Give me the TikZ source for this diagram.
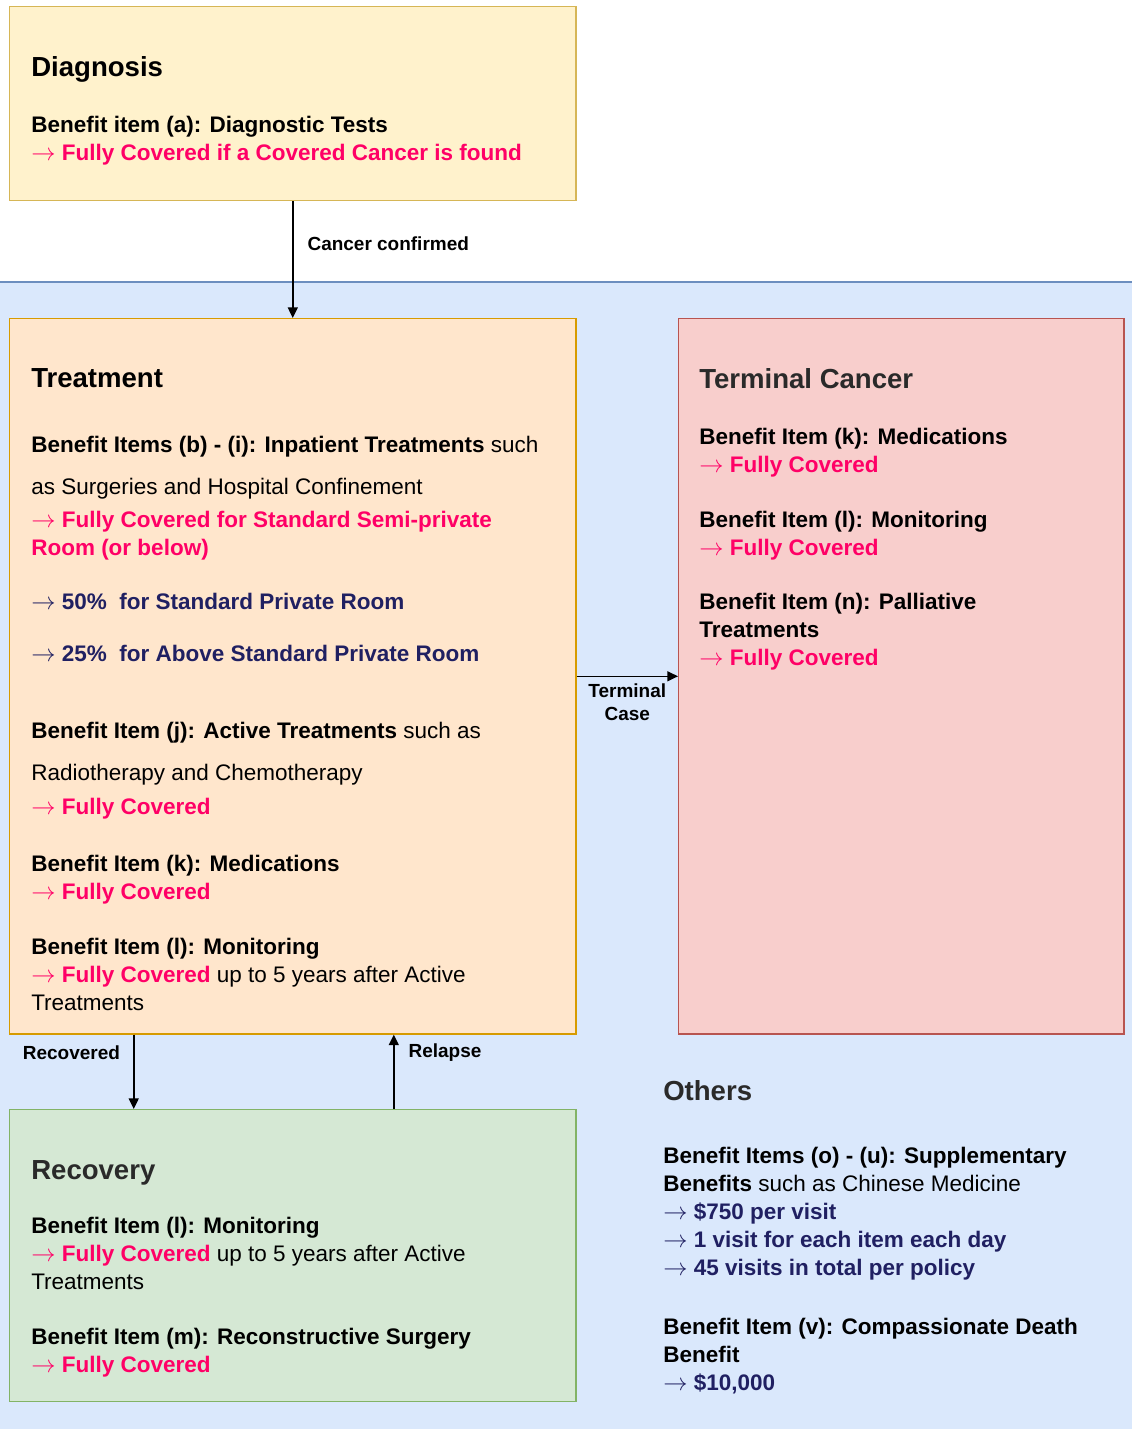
\documentclass[tikz,border=0pt]{standalone}
\usepackage{fontspec}
\setmainfont{Liberation Sans}
\usetikzlibrary{arrows.meta,positioning}
\definecolor{diagfill}{HTML}{FFF2CC}
\definecolor{diagline}{HTML}{D6B656}
\definecolor{treatfill}{HTML}{FFE6CC}
\definecolor{treatline}{HTML}{D79B00}
\definecolor{termfill}{HTML}{F8CECC}
\definecolor{termline}{HTML}{B85450}
\definecolor{recfill}{HTML}{D5E8D4}
\definecolor{recline}{HTML}{82B366}
\definecolor{bgfill}{HTML}{DAE8FC}
\definecolor{bgline}{HTML}{6C8EBF}
\definecolor{pinkred}{HTML}{FF0066}
\definecolor{navytxt}{HTML}{202062}
\definecolor{ttlgray}{HTML}{2A2A2A}

\begin{document}
\begin{tikzpicture}[x=0.025cm,y=-0.025cm,
  stage/.style={draw,line width=1pt,anchor=north west,inner sep=0pt},
  ttl/.style={anchor=north west,inner sep=0pt,font=\fontsize{19.6}{24}\selectfont\bfseries},
  txt/.style={anchor=north west,inner sep=0pt,align=left,font=\fontsize{16}{19.9}\selectfont},
  lbl/.style={inner sep=0pt,align=center,font=\fontsize{13.5}{16.4}\selectfont\bfseries},
  flow/.style={line width=1.1pt,-{Triangle[length=7.5pt,width=7pt]}}]
\newcommand{\covarrow}{$\rightarrow$}
\newcommand{\pk}[1]{\textcolor{pinkred}{\covarrow\ \bfseries #1}}
\newcommand{\pkc}[1]{\textcolor{pinkred}{\bfseries #1}}
\newcommand{\nv}[1]{\textcolor{navytxt}{\covarrow\ \bfseries #1}}

\useasboundingbox (0,0) rectangle (1132,1429);

% background of the covered stages
\fill[bgfill] (0,282) rectangle (1132,1429);
\draw[bgline, line width=1pt] (0,282) -- (1132,282);

% stages
\node[stage, fill=diagfill, draw=diagline, minimum width=14.15cm, minimum height=4.85cm] (diag) at (9,6) {};
\node[stage, fill=treatfill, draw=treatline, minimum width=14.15cm, minimum height=17.875cm] (treat) at (9,318) {};
\node[stage, fill=termfill, draw=termline, minimum width=11.125cm, minimum height=17.875cm] (term) at (678,318) {};
\node[stage, fill=recfill, draw=recline, minimum width=14.15cm, minimum height=7.3cm] (rec) at (9,1109) {};

% diagnosis
\node[ttl] (diagT) at (31,56) {Diagnosis};
\node[txt] (diagA) at (31,115.5) {\textbf{Benefit item (a): Diagnostic Tests}\\
  \pk{Fully Covered if a Covered Cancer is found}};

% treatment
\node[ttl] (treatT) at (31,368) {Treatment};
\node[txt] (treatA) at (31,435.5) {\textbf{Benefit Items (b) - (i): Inpatient Treatments} such\\[10pt]
  as Surgeries and Hospital Confinement\\[3.6pt]
  \pk{Fully Covered for Standard Semi-private}\\
  \pkc{Room (or below)}};
\node[txt] (treatB) at (31,592.5) {\nv{50\%\ \ for Standard Private Room}};
\node[txt] (treatC) at (31,644.5) {\nv{25\%\ \ for Above Standard Private Room}};
\node[txt] (treatD) at (31,721.5) {\textbf{Benefit Item (j): Active Treatments} such as\\[10pt]
  Radiotherapy and Chemotherapy\\[4.3pt]
  \pk{Fully Covered}};
\node[txt] (treatE) at (31,854.5) {\textbf{Benefit Item (k): Medications}\\
  \pk{Fully Covered}};
\node[txt] (treatF) at (31,937.5) {\textbf{Benefit Item (l): Monitoring}\\
  \pk{Fully Covered} up to 5 years after Active\\
  Treatments};

% terminal cancer
\node[ttl, text=ttlgray] (termT) at (699,368) {Terminal Cancer};
\node[txt] (termA) at (699,427.5) {\textbf{Benefit Item (k): Medications}\\
  \pk{Fully Covered}};
\node[txt] (termB) at (699,510.5) {\textbf{Benefit Item (l): Monitoring}\\
  \pk{Fully Covered}};
\node[txt] (termC) at (699,592.5) {\textbf{Benefit Item (n): Palliative}\\
  \textbf{Treatments}\\
  \pk{Fully Covered}};

% recovery
\node[ttl, text=ttlgray] (recT) at (31,1160) {Recovery};
\node[txt] (recA) at (31,1216.5) {\textbf{Benefit Item (l): Monitoring}\\
  \pk{Fully Covered} up to 5 years after Active\\
  Treatments};
\node[txt] (recB) at (31,1327.5) {\textbf{Benefit Item (m): Reconstructive Surgery}\\
  \pk{Fully Covered}};

% others
\node[ttl, text=ttlgray] (othT) at (663,1080) {Others};
\node[txt] (othA) at (663,1146.5) {\textbf{Benefit Items (o) - (u): Supplementary}\\
  \textbf{Benefits} such as Chinese Medicine\\
  \nv{\$750 per visit}\\
  \nv{1 visit for each item each day}\\
  \nv{45 visits in total per policy}};
\node[txt] (othB) at (663,1317.5) {\textbf{Benefit Item (v): Compassionate Death}\\
  \textbf{Benefit}\\
  \nv{\$10,000}};

% transitions
\draw[flow] (diag) -- (treat) node[lbl, pos=0.36, right=0.35cm] (confirmed) {Cancer confirmed};
\draw[flow] (treat) -- (term) node[lbl, midway, below=0.17cm] (terminal) {Terminal\\Case};
\draw[flow] ([xshift=-3.975cm]treat.south) -- ([xshift=-3.975cm]rec.north)
  node[lbl, pos=0.24, left=0.325cm] (recovered) {Recovered};
\draw[flow] ([xshift=2.525cm]rec.north) -- ([xshift=2.525cm]treat.south)
  node[lbl, pos=0.76, right=0.35cm] (relapse) {Relapse};
\end{tikzpicture}
\end{document}
